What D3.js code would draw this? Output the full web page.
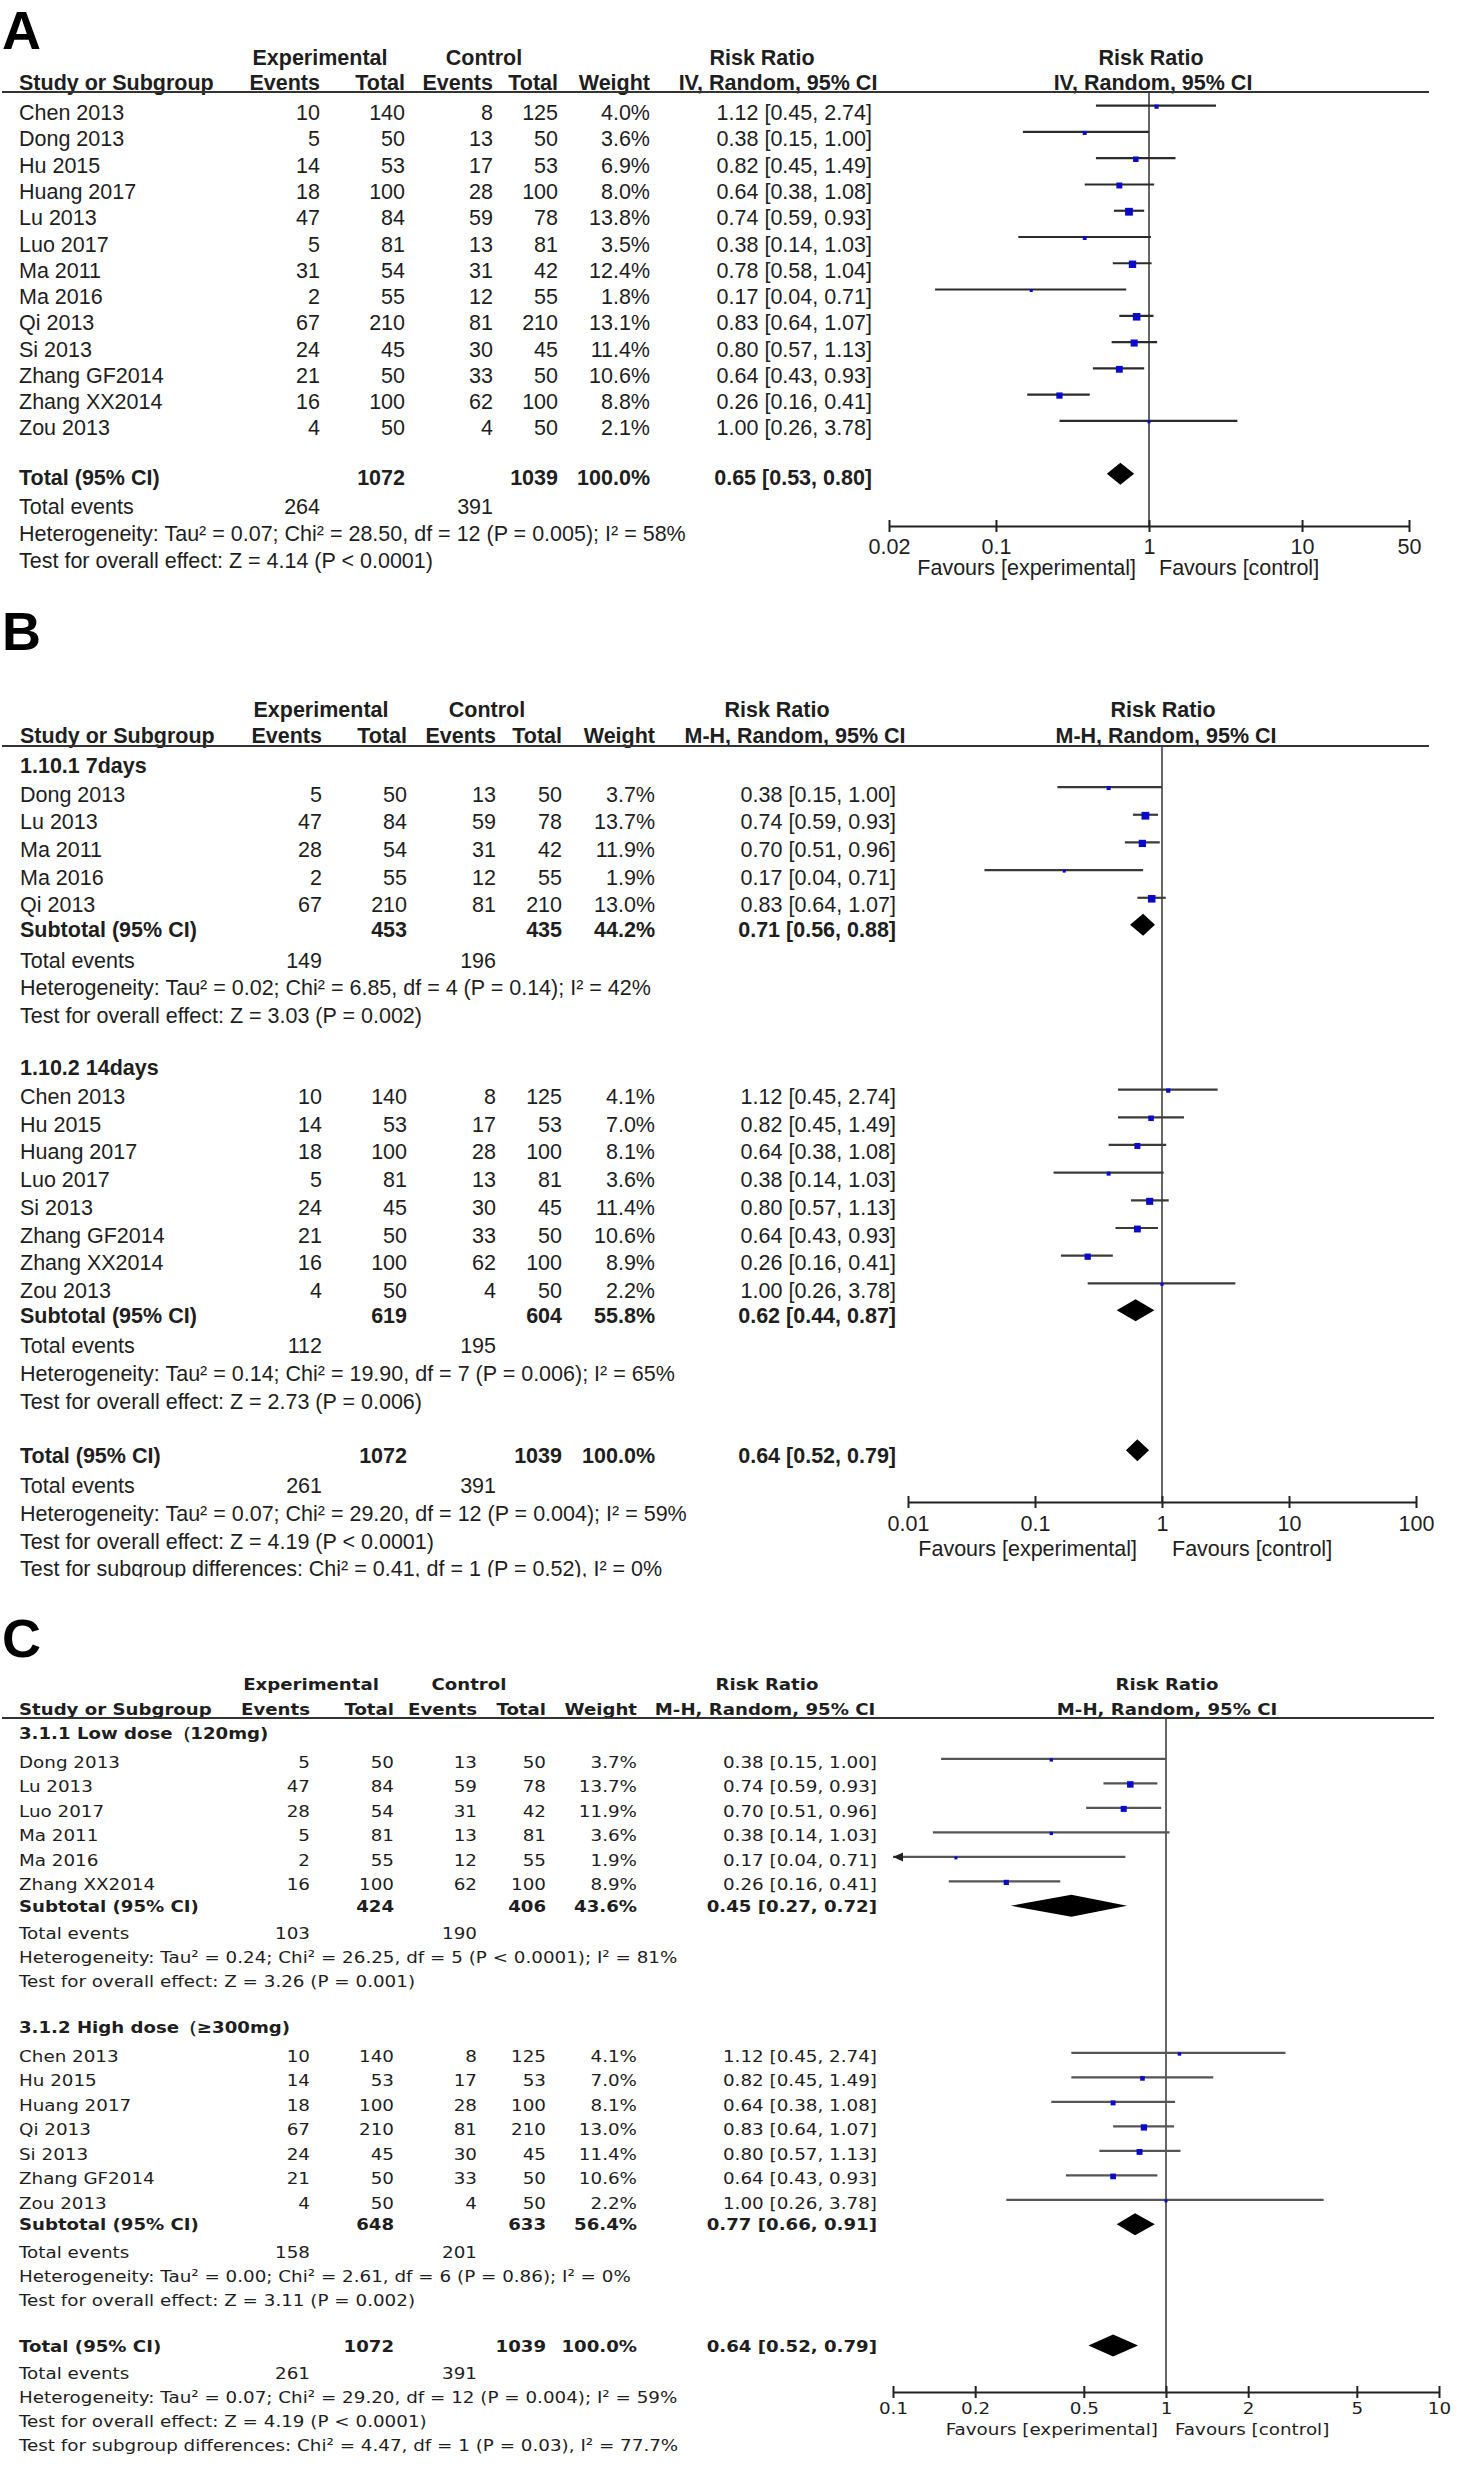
<!DOCTYPE html>
<html>
<head>
<meta charset="utf-8">
<script src="https://cdn.jsdelivr.net/npm/d3@7"></script>
<style>
  body { margin: 0; background: #fff; }
</style>
</head>
<body>
<svg id="chart" width="1458" height="2474"></svg>
<script>
// ---- data: [study, exp events, exp total, ctrl events, ctrl total, weight %, RR, lower, upper]
const studiesA = [
  ["Chen 2013", 10, 140, 8, 125, 4.0, 1.12, 0.45, 2.74],
  ["Dong 2013", 5, 50, 13, 50, 3.6, 0.38, 0.15, 1.00],
  ["Hu 2015", 14, 53, 17, 53, 6.9, 0.82, 0.45, 1.49],
  ["Huang 2017", 18, 100, 28, 100, 8.0, 0.64, 0.38, 1.08],
  ["Lu 2013", 47, 84, 59, 78, 13.8, 0.74, 0.59, 0.93],
  ["Luo 2017", 5, 81, 13, 81, 3.5, 0.38, 0.14, 1.03],
  ["Ma 2011", 31, 54, 31, 42, 12.4, 0.78, 0.58, 1.04],
  ["Ma 2016", 2, 55, 12, 55, 1.8, 0.17, 0.04, 0.71],
  ["Qi 2013", 67, 210, 81, 210, 13.1, 0.83, 0.64, 1.07],
  ["Si 2013", 24, 45, 30, 45, 11.4, 0.80, 0.57, 1.13],
  ["Zhang GF2014", 21, 50, 33, 50, 10.6, 0.64, 0.43, 0.93],
  ["Zhang XX2014", 16, 100, 62, 100, 8.8, 0.26, 0.16, 0.41],
  ["Zou 2013", 4, 50, 4, 50, 2.1, 1.00, 0.26, 3.78]
];
const totalA = [1072, 1039, 100.0, 0.65, 0.53, 0.80];
const eventsA = [264, 391];
const statsA = [
  "Heterogeneity: Tau² = 0.07; Chi² = 28.50, df = 12 (P = 0.005); I² = 58%",
  "Test for overall effect: Z = 4.14 (P < 0.0001)"
];
const ticksA = [0.02, 0.1, 1, 10, 50];

const titlesB = ["1.10.1 7days", "1.10.2 14days"];
const studiesB1 = [
  ["Dong 2013", 5, 50, 13, 50, 3.7, 0.38, 0.15, 1.00],
  ["Lu 2013", 47, 84, 59, 78, 13.7, 0.74, 0.59, 0.93],
  ["Ma 2011", 28, 54, 31, 42, 11.9, 0.70, 0.51, 0.96],
  ["Ma 2016", 2, 55, 12, 55, 1.9, 0.17, 0.04, 0.71],
  ["Qi 2013", 67, 210, 81, 210, 13.0, 0.83, 0.64, 1.07]
];
const studiesB2 = [
  ["Chen 2013", 10, 140, 8, 125, 4.1, 1.12, 0.45, 2.74],
  ["Hu 2015", 14, 53, 17, 53, 7.0, 0.82, 0.45, 1.49],
  ["Huang 2017", 18, 100, 28, 100, 8.1, 0.64, 0.38, 1.08],
  ["Luo 2017", 5, 81, 13, 81, 3.6, 0.38, 0.14, 1.03],
  ["Si 2013", 24, 45, 30, 45, 11.4, 0.80, 0.57, 1.13],
  ["Zhang GF2014", 21, 50, 33, 50, 10.6, 0.64, 0.43, 0.93],
  ["Zhang XX2014", 16, 100, 62, 100, 8.9, 0.26, 0.16, 0.41],
  ["Zou 2013", 4, 50, 4, 50, 2.2, 1.00, 0.26, 3.78]
];
const subtotalsB = [[453, 435, 44.2, 0.71, 0.56, 0.88], [619, 604, 55.8, 0.62, 0.44, 0.87]];
const subEventsB = [[149, 196], [112, 195]];
const subStatsB = [
  ["Heterogeneity: Tau² = 0.02; Chi² = 6.85, df = 4 (P = 0.14); I² = 42%",
   "Test for overall effect: Z = 3.03 (P = 0.002)"],
  ["Heterogeneity: Tau² = 0.14; Chi² = 19.90, df = 7 (P = 0.006); I² = 65%",
   "Test for overall effect: Z = 2.73 (P = 0.006)"]
];
const totalB = [1072, 1039, 100.0, 0.64, 0.52, 0.79];
const eventsB = [261, 391];
const statsB = [
  "Heterogeneity: Tau² = 0.07; Chi² = 29.20, df = 12 (P = 0.004); I² = 59%",
  "Test for overall effect: Z = 4.19 (P < 0.0001)",
  "Test for subgroup differences: Chi² = 0.41, df = 1 (P = 0.52), I² = 0%"
];
const ticksB = [0.01, 0.1, 1, 10, 100];

const titlesC = ["3.1.1 Low dose（120mg)", "3.1.2 High dose（≥300mg)"];
const studiesC1 = [
  ["Dong 2013", 5, 50, 13, 50, 3.7, 0.38, 0.15, 1.00],
  ["Lu 2013", 47, 84, 59, 78, 13.7, 0.74, 0.59, 0.93],
  ["Luo 2017", 28, 54, 31, 42, 11.9, 0.70, 0.51, 0.96],
  ["Ma 2011", 5, 81, 13, 81, 3.6, 0.38, 0.14, 1.03],
  ["Ma 2016", 2, 55, 12, 55, 1.9, 0.17, 0.04, 0.71],
  ["Zhang XX2014", 16, 100, 62, 100, 8.9, 0.26, 0.16, 0.41]
];
const studiesC2 = [
  ["Chen 2013", 10, 140, 8, 125, 4.1, 1.12, 0.45, 2.74],
  ["Hu 2015", 14, 53, 17, 53, 7.0, 0.82, 0.45, 1.49],
  ["Huang 2017", 18, 100, 28, 100, 8.1, 0.64, 0.38, 1.08],
  ["Qi 2013", 67, 210, 81, 210, 13.0, 0.83, 0.64, 1.07],
  ["Si 2013", 24, 45, 30, 45, 11.4, 0.80, 0.57, 1.13],
  ["Zhang GF2014", 21, 50, 33, 50, 10.6, 0.64, 0.43, 0.93],
  ["Zou 2013", 4, 50, 4, 50, 2.2, 1.00, 0.26, 3.78]
];
const subtotalsC = [[424, 406, 43.6, 0.45, 0.27, 0.72], [648, 633, 56.4, 0.77, 0.66, 0.91]];
const subEventsC = [[103, 190], [158, 201]];
const subStatsC = [
  ["Heterogeneity: Tau² = 0.24; Chi² = 26.25, df = 5 (P < 0.0001); I² = 81%",
   "Test for overall effect: Z = 3.26 (P = 0.001)"],
  ["Heterogeneity: Tau² = 0.00; Chi² = 2.61, df = 6 (P = 0.86); I² = 0%",
   "Test for overall effect: Z = 3.11 (P = 0.002)"]
];
const totalC = [1072, 1039, 100.0, 0.64, 0.52, 0.79];
const eventsC = [261, 391];
const statsC = [
  "Heterogeneity: Tau² = 0.07; Chi² = 29.20, df = 12 (P = 0.004); I² = 59%",
  "Test for overall effect: Z = 4.19 (P < 0.0001)",
  "Test for subgroup differences: Chi² = 4.47, df = 1 (P = 0.03), I² = 77.7%"
];
const ticksC = [0.1, 0.2, 0.5, 1, 2, 5, 10];

// ---- layout for each panel
const arial = "'Liberation Sans', Arial, Helvetica, sans-serif";
const lucida = "'DejaVu Sans', Verdana, sans-serif";

const panels = [
  {
    id: "A", letterY: 49, font: arial, size: 21.5, sx: 1, sxBold: 1,
    nameX: 19, cols: [320, 405, 493, 558, 650, 872],
    expHead: 320, ctrlHead: 484, rr1: 762, meth1: 778, rr2: 1151, meth2: 1153,
    head1: 65, head2: 90, rule: 92, ruleEnd: 1429, method: "IV, Random, 95% CI",
    rowH: 26.26, y0: 112.7, base: 7.5, barDy: -7, diaDy: -4, k: 2.1, barColor: "#2b2b2b",
    steps: { titleStudy: 1, sub: 0.9, events: 1.1, stat: 1.02, gapTitle: 1.9, gapTotal: 1.9 },
    domain: [0.02, 50], range: [889, 1409], axisY: 526, ticks: ticksA,
    tickY: 554, favY: 575, favL: 1136, favR: 1159,
    groups: [{ title: null, studies: studiesA }],
    total: totalA, events: eventsA, stats: statsA
  },
  {
    id: "B", letterY: 650, font: arial, size: 21.5, sx: 1, sxBold: 1,
    nameX: 20, cols: [322, 407, 496, 562, 655, 896],
    expHead: 321, ctrlHead: 487, rr1: 777, meth1: 795, rr2: 1163, meth2: 1166,
    head1: 717, head2: 743, rule: 746, ruleEnd: 1429, method: "M-H, Random, 95% CI",
    rowH: 27.68, y0: 765, base: 7.5, barDy: -7, diaDy: -5, k: 2.1, barColor: "#3a3a3a",
    steps: { titleStudy: 1.05, sub: 0.9, events: 1.1, stat: 1.0, gapTitle: 1.88, gapTotal: 1.96 },
    domain: [0.01, 100], range: [908, 1416], axisY: 1502, ticks: ticksB,
    tickY: 1531, favY: 1556, favL: 1137, favR: 1172, clipLast: true,
    groups: [
      { title: titlesB[0], studies: studiesB1, sub: subtotalsB[0], ev: subEventsB[0], stats: subStatsB[0] },
      { title: titlesB[1], studies: studiesB2, sub: subtotalsB[1], ev: subEventsB[1], stats: subStatsB[1] }
    ],
    total: totalB, events: eventsB, stats: statsB
  },
  {
    id: "C", letterY: 1657, font: lucida, size: 16.5, sx: 1.11, sxBold: 1.1,
    nameX: 19, cols: [310, 394, 477, 546, 637, 877],
    expHead: 311, ctrlHead: 469, rr1: 767, meth1: 765, rr2: 1167, meth2: 1167,
    head1: 1690, head2: 1715, rule: 1718, ruleEnd: 1434, method: "M-H, Random, 95% CI",
    rowH: 24.5, y0: 1733, base: 6, barDy: -3, diaDy: 0, k: 1.75, barColor: "#555",
    steps: { titleStudy: 1.18, sub: 0.87, events: 1.12, stat: 0.98, gapTitle: 1.87, gapTotal: 1.87 },
    domain: [0.1, 10], range: [893, 1439], axisY: 2392, ticks: ticksC,
    tickY: 2414, favY: 2435, favL: 1158, favR: 1175,
    groups: [
      { title: titlesC[0], studies: studiesC1, sub: subtotalsC[0], ev: subEventsC[0], stats: subStatsC[0] },
      { title: titlesC[1], studies: studiesC2, sub: subtotalsC[1], ev: subEventsC[1], stats: subStatsC[1] }
    ],
    total: totalC, events: eventsC, stats: statsC
  }
];

const svg = d3.select("#chart");
const ink = "#1e1e1e";

function ciText(rr, lo, hi) {
  return `${rr.toFixed(2)} [${lo.toFixed(2)}, ${hi.toFixed(2)}]`;
}

function stepSize(prev, kind, s) {
  if (kind === "study") return prev === "title" ? s.titleStudy : 1;
  if (kind === "sub") return s.sub;
  if (kind === "events") return s.events;
  if (kind === "stat") return s.stat;
  if (kind === "title") return s.gapTitle;
  if (kind === "total") return s.gapTotal;
  return 1;
}

function buildRows(p) {
  const rows = [];
  p.groups.forEach(g => {
    if (g.title) rows.push({ kind: "title", text: g.title });
    g.studies.forEach(d => rows.push({ kind: "study", d }));
    if (g.sub) {
      rows.push({ kind: "sub", d: g.sub });
      rows.push({ kind: "events", d: g.ev });
      g.stats.forEach(t => rows.push({ kind: "stat", text: t }));
    }
  });
  rows.push({ kind: "total", d: p.total });
  rows.push({ kind: "events", d: p.events });
  p.stats.forEach(t => rows.push({ kind: "stat", text: t }));

  let y = p.y0, prev = null;
  rows.forEach(r => {
    if (prev) y += p.rowH * stepSize(prev.kind, r.kind, p.steps);
    r.y = y;
    prev = r;
  });
  return rows;
}

function drawPanel(p) {
  const g = svg.append("g").attr("class", "panel-" + p.id);

  const put = (x, y, s, anchor, bold) => {
    const sx = bold ? p.sxBold : p.sx;
    return g.append("text")
      .attr("transform", `translate(${x},${y})` + (sx !== 1 ? ` scale(${sx},1)` : ""))
      .attr("text-anchor", anchor || "start")
      .attr("font-family", p.font)
      .attr("font-size", p.size)
      .attr("font-weight", bold ? "bold" : "normal")
      .attr("fill", ink)
      .text(s);
  };

  // panel letter
  g.append("text")
    .attr("x", 2).attr("y", p.letterY)
    .attr("font-family", arial).attr("font-size", 54).attr("font-weight", "bold")
    .attr("fill", "#000")
    .text(p.id);

  // headers
  put(p.expHead, p.head1, "Experimental", "middle", true);
  put(p.ctrlHead, p.head1, "Control", "middle", true);
  put(p.rr1, p.head1, "Risk Ratio", "middle", true);
  put(p.rr2, p.head1, "Risk Ratio", "middle", true);
  put(p.nameX, p.head2, "Study or Subgroup", "start", true);
  ["Events", "Total", "Events", "Total", "Weight"].forEach((h, i) => put(p.cols[i], p.head2, h, "end", true));
  put(p.meth1, p.head2, p.method, "middle", true);
  put(p.meth2, p.head2, p.method, "middle", true);

  g.append("line")
    .attr("x1", 2).attr("x2", p.ruleEnd)
    .attr("y1", p.rule).attr("y2", p.rule)
    .attr("stroke", "#333").attr("stroke-width", 2.2);

  const x = d3.scaleLog().domain(p.domain).range(p.range);
  const xmin = p.range[0], xmax = p.range[1];

  // line of no effect
  g.append("line")
    .attr("x1", x(1)).attr("x2", x(1))
    .attr("y1", p.rule).attr("y2", p.axisY)
    .attr("stroke", "#333").attr("stroke-width", 1.5);

  const rows = buildRows(p);
  const forest = g.append("g");

  rows.forEach((r, idx) => {
    const yb = r.y + p.base;
    if (r.kind === "title") {
      put(p.nameX, yb, r.text, "start", true);
    } else if (r.kind === "study") {
      const [name, ee, et, ce, ct, w, rr, lo, hi] = r.d;
      put(p.nameX, yb, name);
      [ee, et, ce, ct].forEach((v, i) => put(p.cols[i], yb, v, "end"));
      put(p.cols[4], yb, w.toFixed(1) + "%", "end");
      put(p.cols[5], yb, ciText(rr, lo, hi), "end");

      const yl = r.y + p.barDy;
      const xl = Math.max(xmin, x(lo)), xr = Math.min(xmax, x(hi));
      forest.append("line")
        .attr("x1", xl).attr("x2", xr).attr("y1", yl).attr("y2", yl)
        .attr("stroke", p.barColor).attr("stroke-width", 2.2);
      if (x(lo) < xmin) {
        forest.append("path")
          .attr("d", `M${xmin},${yl}L${xmin + 10},${yl - 4.5}L${xmin + 10},${yl + 4.5}Z`)
          .attr("fill", "#222");
      }
      const side = Math.max(3, p.k * Math.sqrt(w));
      forest.append("rect")
        .attr("x", x(rr) - side / 2).attr("y", yl - side / 2 + 1)
        .attr("width", side).attr("height", side)
        .attr("fill", "#0a0acc");
    } else if (r.kind === "sub" || r.kind === "total") {
      const [et, ct, w, rr, lo, hi] = r.d;
      put(p.nameX, yb, r.kind === "sub" ? "Subtotal (95% CI)" : "Total (95% CI)", "start", true);
      put(p.cols[1], yb, et, "end", true);
      put(p.cols[3], yb, ct, "end", true);
      put(p.cols[4], yb, w.toFixed(1) + "%", "end", true);
      put(p.cols[5], yb, ciText(rr, lo, hi), "end", true);

      const yd = r.y + p.diaDy, h = 11;
      forest.append("path")
        .attr("d", `M${x(lo)},${yd}L${x(rr)},${yd - h}L${x(hi)},${yd}L${x(rr)},${yd + h}Z`)
        .attr("fill", "#000");
    } else if (r.kind === "events") {
      put(p.nameX, yb, "Total events");
      put(p.cols[0], yb, r.d[0], "end");
      put(p.cols[2], yb, r.d[1], "end");
    } else if (r.kind === "stat") {
      const t = put(p.nameX, yb, r.text);
      if (p.clipLast && idx === rows.length - 1) {
        // the source figure is cropped through this last line
        const cid = "clip-" + p.id;
        svg.append("clipPath").attr("id", cid)
          .append("rect").attr("x", -10).attr("y", -30).attr("width", 1000).attr("height", 31);
        t.attr("clip-path", `url(#${cid})`);
      }
    }
  });

  // axis
  const axis = d3.axisBottom(x)
    .tickValues(p.ticks)
    .tickFormat(d => String(d))
    .tickSizeOuter(0)
    .tickSizeInner(6);
  const ag = g.append("g").attr("transform", `translate(0,${p.axisY})`).call(axis);
  ag.select(".domain").attr("stroke", "#222").attr("stroke-width", 2.2);
  ag.selectAll(".tick line").attr("y1", -6).attr("y2", 6).attr("stroke", "#222").attr("stroke-width", 2);
  ag.selectAll(".tick text")
    .attr("y", p.tickY - p.axisY).attr("dy", 0)
    .attr("transform", p.sx !== 1 ? `scale(${p.sx},1)` : null)
    .attr("font-family", p.font).attr("font-size", p.size).attr("fill", ink);

  put(p.favL, p.favY, "Favours [experimental]", "end");
  put(p.favR, p.favY, "Favours [control]", "start");
}

panels.forEach(drawPanel);
</script>
</body>
</html>
